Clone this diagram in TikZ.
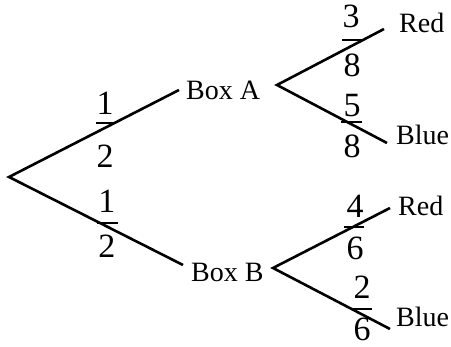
\documentclass[tikz,border=0pt]{standalone}
\usepackage{fontspec}
\setmainfont{Liberation Serif}
\begin{document}
\begin{tikzpicture}[x=1pt,y=-1pt,
  lbl/.style={font=\fontsize{28}{30}\selectfont, inner sep=0pt, anchor=base west},
  dig/.style={font=\fontsize{34}{36}\selectfont, inner sep=0pt, anchor=base},
  branch/.style={line width=2.6pt},
  fbar/.style={line width=1.8pt}]
\useasboundingbox (0,0) rectangle (451,347);
% points
\coordinate (root) at (9,177);
\coordinate (ea) at (179,90);
\coordinate (eb) at (183,265);
\coordinate (sa) at (277,85);
\coordinate (sb) at (273,268);
\coordinate (ar) at (384,29);
\coordinate (ab) at (387,143);
\coordinate (br) at (390,208);
\coordinate (bb) at (390,329);
% labels
\node[lbl] (boxA) at (186,100) {Box A};
\node[lbl] (boxB) at (191,282) {Box B};
\node[lbl] (redA) at (399,33) {Red};
\node[lbl] (blueA) at (396,145) {Blue};
\node[lbl] (redB) at (398,216) {Red};
\node[lbl] (blueB) at (396,327) {Blue};
% branches
\draw[branch] (ea) -- (root) -- (eb);
\draw[branch] (ar) -- (sa) -- (ab);
\draw[branch] (br) -- (sb) -- (bb);
% fractions
\node[dig] (n1) at (105,115) {1};
\draw[fbar] (96,123) -- (116,123);
\node[dig] (d1) at (105,168) {2};
\node[dig] (n2) at (107,213) {1};
\draw[fbar] (97,223) -- (118,223);
\node[dig] (d2) at (107,258) {2};
\node[dig] (n3) at (351,28) {3};
\draw[fbar] (342,40) -- (362,40);
\node[dig] (d3) at (352,77) {8};
\node[dig] (n4) at (352,117) {5};
\draw[fbar] (341,122) -- (362,122);
\node[dig] (d4) at (352,158) {8};
\node[dig] (n5) at (355,218) {4};
\draw[fbar] (344,227) -- (364,227);
\node[dig] (d5) at (355,260) {6};
\node[dig] (n6) at (362,299) {2};
\draw[fbar] (353,309) -- (372,309);
\node[dig] (d6) at (362,341) {6};
\end{tikzpicture}
\end{document}
